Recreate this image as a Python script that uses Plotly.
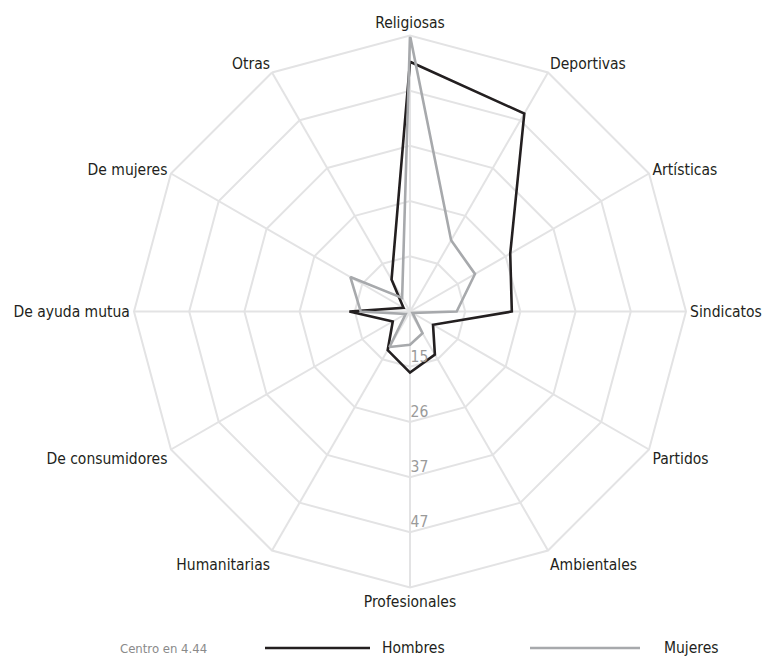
import plotly.graph_objects as go

categories = ["Religiosas", "Deportivas", "Artísticas", "Sindicatos", "Partidos",
              "Ambientales", "Profesionales", "Humanitarias", "De consumidores",
              "De ayuda mutua", "De mujeres", "Otras"]
hombres = [52.9, 48.8, 26.9, 24.2, 9.6, 14.1, 16.3, 13.1, 8.3, 16.2, 5.9, 11.6]
mujeres = [58.0, 20.4, 19.0, 13.5, 5.0, 9.3, 10.9, 12.4, 5.4, 14.0, 17.8, 7.5]
centro = 4.44
r_max = 58.0
n_rings = 5
ring_vals = [centro + (r_max - centro) * (k + 1) / n_rings for k in range(n_rings)]
ring_text = ["15", "26", "37", "47", ""]

label_font = "DejaVu Sans Condensed, Liberation Sans Narrow, Roboto, sans-serif"
dark = "#231f20"
gray = "#a7a9ac"
grid = "#e3e3e4"

fig = go.Figure()
fig.add_trace(go.Scatterpolar(
    r=hombres + hombres[:1], theta=categories + categories[:1],
    mode="lines", name="Hombres", line=dict(color=dark, width=2.6),
    showlegend=False))
fig.add_trace(go.Scatterpolar(
    r=mujeres + mujeres[:1], theta=categories + categories[:1],
    mode="lines", name="Mujeres", line=dict(color=gray, width=2.6),
    showlegend=False))

fig.update_layout(
    width=766, height=664,
    margin=dict(l=0, r=0, t=0, b=0),
    paper_bgcolor="white",
    template="none",
    font=dict(family=label_font, color=dark, size=15.5),
    polar=dict(
        domain=dict(x=[134 / 766, 686 / 766], y=[1 - 587.5 / 664, 1 - 35.5 / 664]),
        bgcolor="white",
        gridshape="linear",
        angularaxis=dict(
            categoryorder="array", categoryarray=categories,
            rotation=90, direction="clockwise",
            showline=True, linecolor=grid, linewidth=2,
            gridcolor=grid, gridwidth=2, ticks="",
            tickfont=dict(family=label_font, size=15.5, color=dark),
        ),
        radialaxis=dict(
            range=[centro, r_max], angle=-90, tickangle=-90,
            side="counterclockwise",
            tickvals=ring_vals, ticktext=[t + "<br> " if t else t for t in ring_text],
            showline=False, ticks="",
            gridcolor=grid, gridwidth=2,
            tickfont=dict(family=label_font, size=15.5, color="#9a9a9a"),
        ),
    ),
    shapes=[
        dict(type="line", xref="paper", yref="paper", x0=265 / 766, x1=370 / 766,
             y0=1 - 648 / 664, y1=1 - 648 / 664, line=dict(color=dark, width=2.6)),
        dict(type="line", xref="paper", yref="paper", x0=530 / 766, x1=640 / 766,
             y0=1 - 648 / 664, y1=1 - 648 / 664, line=dict(color=gray, width=2.6)),
    ],
    annotations=[
        dict(text="Centro en " + str(centro), xref="paper", yref="paper",
             x=118 / 766, y=1 - 648 / 664, xanchor="left", yanchor="middle",
             showarrow=False, font=dict(family=label_font, size=13, color="#8a8a8a")),
        dict(text="Hombres", xref="paper", yref="paper",
             x=380 / 766, y=1 - 648 / 664, xanchor="left", yanchor="middle",
             showarrow=False, font=dict(family=label_font, size=15.5, color=dark)),
        dict(text="Mujeres", xref="paper", yref="paper",
             x=662 / 766, y=1 - 648 / 664, xanchor="left", yanchor="middle",
             showarrow=False, font=dict(family=label_font, size=15.5, color=dark)),
    ],
)

fig.write_html("out.html", config={"displayModeBar": False},
               post_script="document.body.style.margin='0';document.body.style.overflow='hidden';")
